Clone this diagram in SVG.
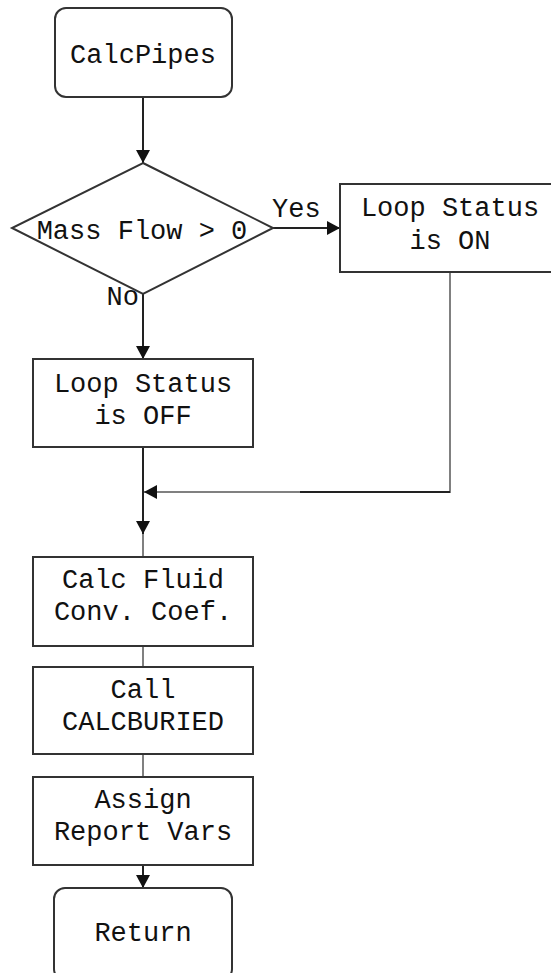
<svg xmlns="http://www.w3.org/2000/svg" width="551" height="973" viewBox="0 0 551 973">
<defs>
<style>
.box{fill:#fff;stroke:#333;stroke-width:2}
.t{font-family:"Courier New","Liberation Mono",monospace;font-size:27px;fill:#111;text-anchor:middle}
.lbl{font-family:"Courier New","Liberation Mono",monospace;font-size:27px;fill:#111}
.c{fill:none;stroke:#222;stroke-width:2}
.g{fill:none;stroke:#808080;stroke-width:2}
</style>
<marker id="arr" markerUnits="userSpaceOnUse" markerWidth="14" markerHeight="14" refX="13" refY="7" orient="auto">
<path d="M0,0 L13,7 L0,14 z" fill="#111"/>
</marker>
</defs>
<rect width="551" height="973" fill="#fff"/>
<g id="connectors">
<path class="c" d="M143,97 V163" marker-end="url(#arr)"/>
<path class="c" d="M273,228 H340" marker-end="url(#arr)"/>
<path class="c" d="M143,294 V359" marker-end="url(#arr)"/>
<path class="g" d="M450,272 V492 H300"/>
<path class="c" d="M450,492 H300"/>
<path class="g" d="M300,492 H144" marker-end="url(#arr)"/>
<path class="c" d="M143,447 V534" marker-end="url(#arr)"/>
<path class="g" d="M143,534 V557"/>
<path class="g" d="M143,646 V667"/>
<path class="g" d="M143,754 V777"/>
<path class="c" d="M143,865 V888" marker-end="url(#arr)"/>
<text class="lbl" x="272" y="217">Yes</text>
<text class="lbl" x="139" y="305" text-anchor="end">No</text>
</g>
<g id="start">
<rect class="box" x="55" y="8" width="177" height="89" rx="11"/>
<text class="t" x="143" y="63">CalcPipes</text>
</g>
<g id="decision">
<polygon class="box" points="143,163 273,228 143,294 12,228"/>
<text class="t" x="142" y="239">Mass Flow &gt; 0</text>
</g>
<g id="loopOn">
<rect class="box" x="340" y="184" width="220" height="88"/>
<text class="t" x="450" y="216">Loop Status</text>
<text class="t" x="450" y="249">is ON</text>
</g>
<g id="loopOff">
<rect class="box" x="33" y="359" width="220" height="88"/>
<text class="t" x="143" y="392">Loop Status</text>
<text class="t" x="143" y="424">is OFF</text>
</g>
<g id="calcFluid">
<rect class="box" x="33" y="557" width="220" height="89"/>
<text class="t" x="143" y="588">Calc Fluid</text>
<text class="t" x="143" y="620">Conv. Coef.</text>
</g>
<g id="callBuried">
<rect class="box" x="33" y="667" width="220" height="87"/>
<text class="t" x="143" y="698">Call</text>
<text class="t" x="143" y="730">CALCBURIED</text>
</g>
<g id="assign">
<rect class="box" x="33" y="777" width="220" height="88"/>
<text class="t" x="143" y="808">Assign</text>
<text class="t" x="143" y="840">Report Vars</text>
</g>
<g id="return">
<rect class="box" x="54" y="888" width="178" height="92" rx="11"/>
<text class="t" x="143" y="941">Return</text>
</g>
</svg>
